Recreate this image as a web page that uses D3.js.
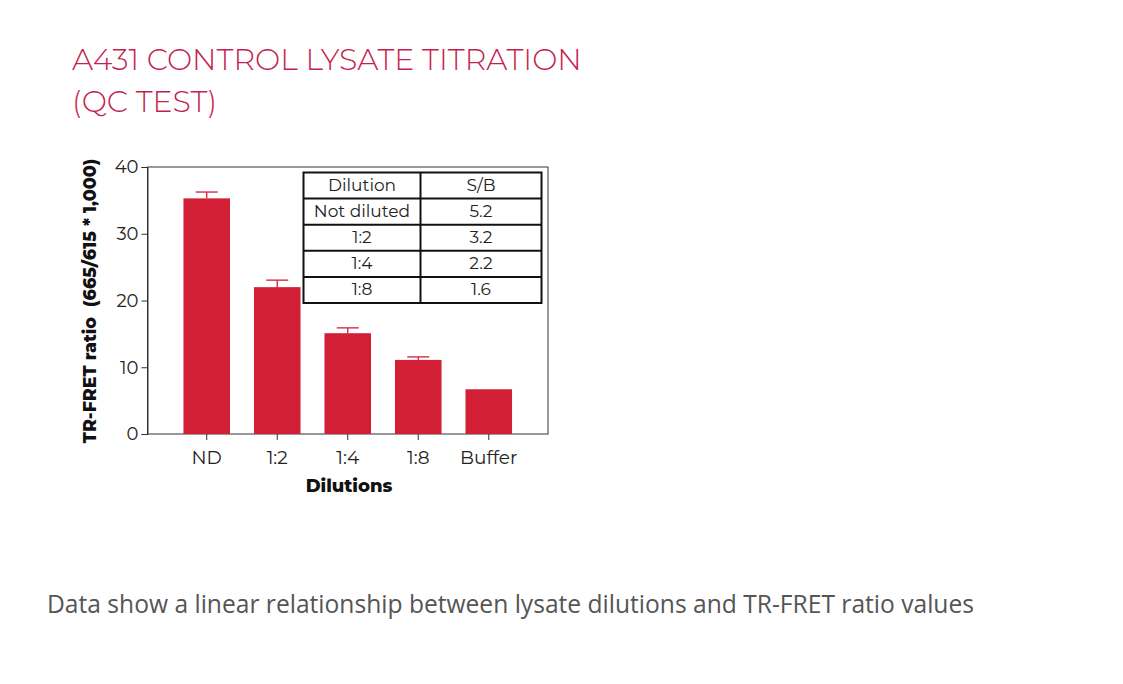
<!DOCTYPE html>
<html>
<head>
<meta charset="utf-8">
<script src="https://cdn.jsdelivr.net/npm/d3@7"></script>
<style>
  body { margin: 0; background: #fff; }
  svg { display: block; }
</style>
</head>
<body>
<div class="chart"></div>
<script>
// data
var dilutions = ["ND", "1:2", "1:4", "1:8", "Buffer"];
var ratioValues = [35.3, 22.0, 15.1, 11.1, 6.7];
var ratioErrors = [0.95, 1.05, 0.8, 0.45, 0];
var yTicks = [0, 10, 20, 30, 40];
var tableHeader = ["Dilution", "S/B"];
var tableDilution = ["Not diluted", "1:2", "1:4", "1:8"];
var tableSB = ["5.2", "3.2", "2.2", "1.6"];

var w = 1123;
var h = 684;
var barColor = "#d21f35";
var titleColor = "#c41f4f";
var font = "Montserrat, 'Open Sans', sans-serif";

var svg = d3.select(".chart")
            .append("svg")
            .attr("width", w)
            .attr("height", h);

// title
var title = svg.append("text")
    .attr("x", 73)
    .attr("font-family", "Montserrat, Lato, sans-serif")
    .attr("font-weight", 300)
    .attr("font-size", 30)
    .attr("fill", titleColor);
title.append("tspan").attr("x", 72).attr("y", 70).text("A431 CONTROL LYSATE TITRATION");
title.append("tspan").attr("x", 72).attr("y", 112).text("(QC TEST)");

// plot area
var plotL = 147.5, plotR = 548, plotT = 167, plotB = 434;

var xScale = d3.scaleBand()
    .domain(dilutions)
    .range([plotL, plotR])
    .paddingInner(0.34)
    .paddingOuter(0.51);

var yScale = d3.scaleLinear()
    .domain([0, 40])
    .range([plotB, plotT]);

// frame
svg.append("rect")
    .attr("x", plotL)
    .attr("y", plotT)
    .attr("width", plotR - plotL)
    .attr("height", plotB - plotT)
    .attr("fill", "none")
    .attr("stroke", "#333")
    .attr("stroke-width", 1);

// bars
svg.selectAll("rect.bar")
    .data(ratioValues)
    .enter()
    .append("rect")
    .attr("class", "bar")
    .attr("x", function(d, i){ return xScale(dilutions[i]); })
    .attr("y", function(d){ return yScale(d); })
    .attr("width", xScale.bandwidth())
    .attr("height", function(d){ return plotB - yScale(d); })
    .attr("fill", barColor);

// error bars (upper half only)
var capW = 22;
ratioValues.forEach(function(v, i){
    if (ratioErrors[i] <= 0) return;
    var cx = xScale(dilutions[i]) + xScale.bandwidth() / 2;
    svg.append("line")
        .attr("x1", cx).attr("x2", cx)
        .attr("y1", yScale(v)).attr("y2", yScale(v + ratioErrors[i]))
        .attr("stroke", barColor).attr("stroke-width", 1.3);
    svg.append("line")
        .attr("x1", cx - capW / 2).attr("x2", cx + capW / 2)
        .attr("y1", yScale(v + ratioErrors[i])).attr("y2", yScale(v + ratioErrors[i]))
        .attr("stroke", barColor).attr("stroke-width", 1.3);
});

// y axis
var yAxis = d3.axisLeft(yScale).tickValues(yTicks).tickSize(6).tickPadding(3);
var gy = svg.append("g")
    .attr("transform", "translate(" + plotL + ",0)")
    .call(yAxis);
gy.select(".domain").attr("stroke", "#333");
gy.selectAll(".tick line").attr("stroke", "#333");
gy.selectAll(".tick text")
    .attr("font-family", font)
    .attr("font-size", 18)
    .attr("fill", "#222");

// x axis
var xAxis = d3.axisBottom(xScale).tickSize(6).tickPadding(11);
var gx = svg.append("g")
    .attr("transform", "translate(0," + plotB + ")")
    .call(xAxis);
gx.select(".domain").remove();
gx.selectAll(".tick line").attr("stroke", "#333");
gx.selectAll(".tick text")
    .attr("font-family", font)
    .attr("font-size", 18.5)
    .attr("fill", "#222");

// axis titles
svg.append("text")
    .attr("x", 349)
    .attr("y", 492)
    .attr("text-anchor", "middle")
    .attr("font-family", font)
    .attr("font-weight", 800)
    .attr("font-size", 18)
    .attr("fill", "#111")
    .text("Dilutions");

svg.append("text")
    .attr("transform", "translate(96,301) rotate(-90)")
    .attr("text-anchor", "middle")
    .attr("font-family", font)
    .attr("font-weight", 800)
    .attr("font-size", 17.5)
    .attr("fill", "#111")
    .attr("xml:space", "preserve")
    .text("TR-FRET ratio  (665/615 * 1,000)");

// S/B table
var tX = 303.5, tY = 172.5, rowH = 26.1, colW = [117, 121];
var rows = [tableHeader].concat(tableDilution.map(function(d, i){ return [d, tableSB[i]]; }));
var table = svg.append("g");
table.append("rect")
    .attr("x", tX).attr("y", tY)
    .attr("width", colW[0] + colW[1]).attr("height", rowH * rows.length)
    .attr("fill", "#fff").attr("stroke", "#111").attr("stroke-width", 2);
rows.forEach(function(r, i){
    if (i > 0) {
        table.append("line")
            .attr("x1", tX).attr("x2", tX + colW[0] + colW[1])
            .attr("y1", tY + rowH * i).attr("y2", tY + rowH * i)
            .attr("stroke", "#111").attr("stroke-width", 2);
    }
    r.forEach(function(c, j){
        table.append("text")
            .attr("x", tX + (j == 0 ? colW[0] / 2 : colW[0] + colW[1] / 2))
            .attr("y", tY + rowH * i + rowH / 2 + 5)
            .attr("text-anchor", "middle")
            .attr("font-family", font)
            .attr("font-size", 17)
            .attr("fill", "#222")
            .text(c);
    });
});
table.append("line")
    .attr("x1", tX + colW[0]).attr("x2", tX + colW[0])
    .attr("y1", tY).attr("y2", tY + rowH * rows.length)
    .attr("stroke", "#111").attr("stroke-width", 2);

// caption
svg.append("text")
    .attr("x", 47)
    .attr("y", 613)
    .attr("font-family", "'Open Sans', 'Noto Sans', sans-serif")
    .attr("font-size", 24.6)
    .attr("fill", "#555")
    .text("Data show a linear relationship between lysate dilutions and TR-FRET ratio values");
</script>
</body>
</html>
